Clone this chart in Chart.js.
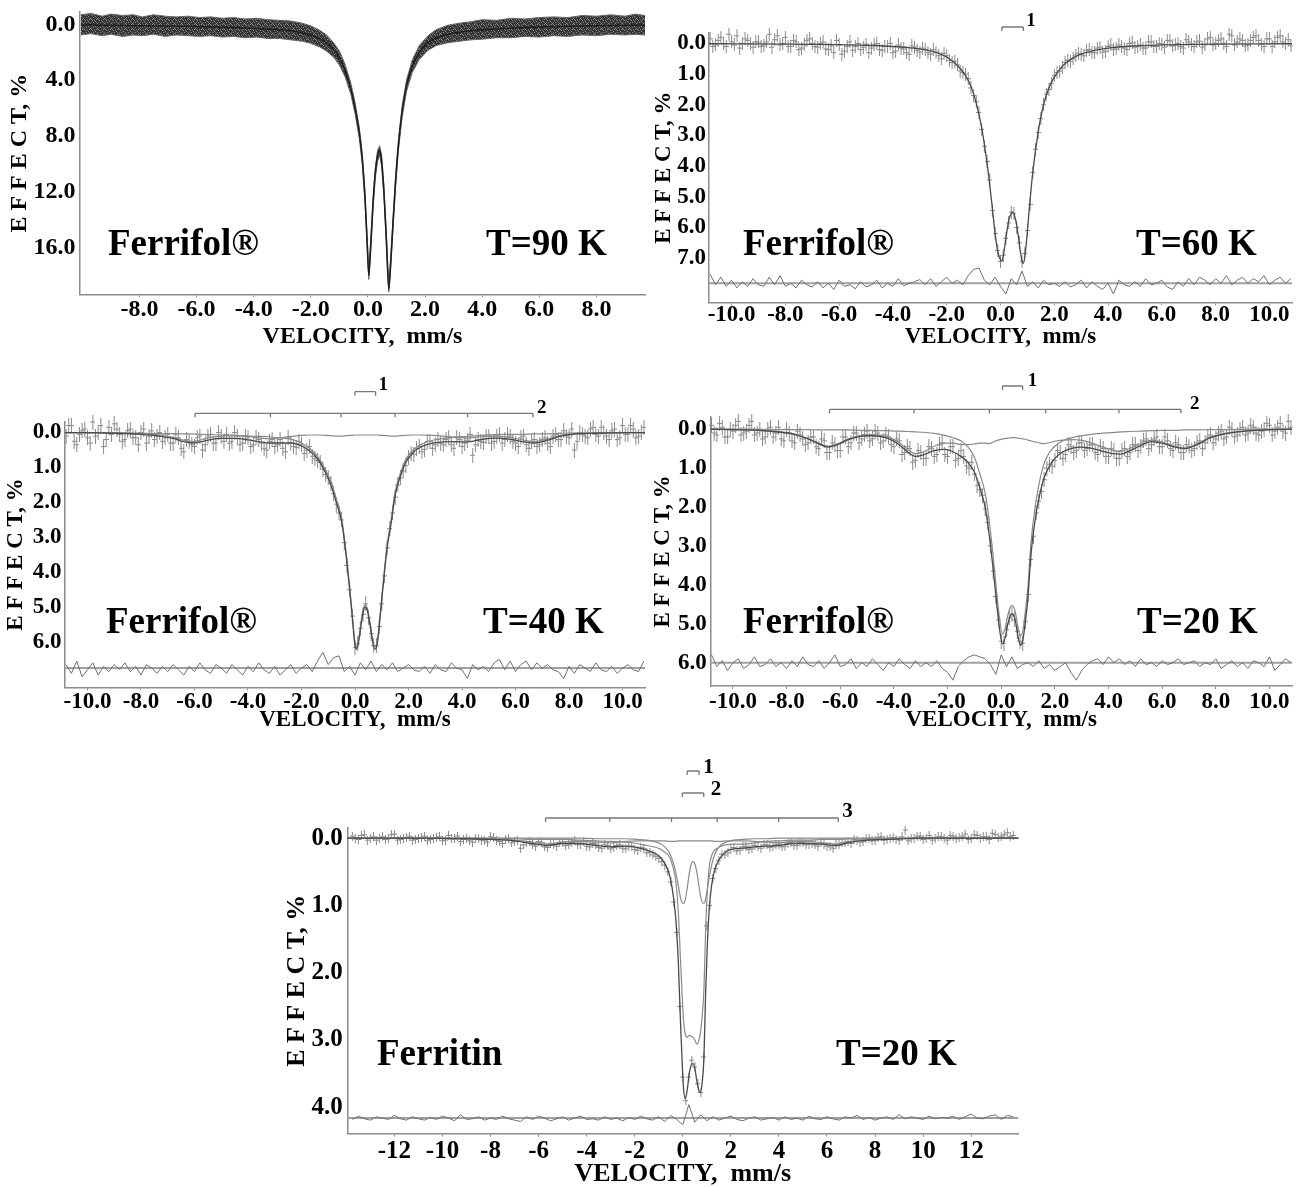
<!DOCTYPE html>
<html>
<head>
<meta charset="utf-8">
<title>Mössbauer spectra: Ferrifol and Ferritin</title>
<script src="https://cdn.jsdelivr.net/npm/chart.js@4.4.1/dist/chart.umd.min.js"></script>
<style>
  html, body { margin: 0; padding: 0; background: #fff; }
  #page { position: relative; width: 1299px; height: 1187px; overflow: hidden; }
  #page canvas { position: absolute; }
</style>
</head>
<body>
<div id="page">
  <canvas id="c90"></canvas>
  <canvas id="c60"></canvas>
  <canvas id="c40"></canvas>
  <canvas id="c20"></canvas>
  <canvas id="cFtn"></canvas>
</div>
<script>
//setup block
const SERIF = '"Liberation Serif", "Times New Roman", serif';
const AXIS = '#8c8c8c';

// ---- Ferrifol, T=90 K (dense data band) ----
const vel90 = [-10.05,-9.7,-9.3,-9.0,-8.6,-8.2,-7.9,-7.5,-7.1,-6.7,
  -6.3,-5.9,-5.5,-5.1,-4.7,-4.3,-3.9,-3.5,-3.1,-2.7,
  -2.3,-2.0,-1.7,-1.45,-1.2,-1.0,-0.8,-0.6,-0.45,-0.3,
  -0.2,-0.1,-0.03,0.03,0.1,0.18,0.26,0.34,0.41,0.48,
  0.56,0.64,0.73,0.8,0.88,0.97,1.07,1.2,1.35,1.55,
  1.8,2.1,2.4,2.8,3.2,3.6,4.0,4.5,5.0,5.5,
  6.0,6.5,7.0,7.5,8.0,8.5,9.0,9.35,9.7];
const band90Mid = [0.05,0.0,0.05,0.05,0.05,0.08,0.08,0.1,0.1,0.12,
  0.13,0.15,0.17,0.2,0.22,0.25,0.28,0.32,0.38,0.45,
  0.6,0.75,1.0,1.3,1.8,2.4,3.3,4.6,6.0,7.8,
  9.6,12.5,15.5,18.0,15.8,12.8,10.6,9.4,9.0,9.8,
  12.0,15.2,19.0,17.0,14.2,11.2,8.6,6.2,4.4,3.0,
  2.0,1.3,0.95,0.7,0.55,0.45,0.38,0.32,0.27,0.22,
  0.18,0.15,0.12,0.1,0.08,0.06,0.05,0.04,0.03];
const band90Top = [-0.7,-0.8,-0.6,-0.75,-0.65,-0.7,-0.55,-0.7,-0.6,-0.55,
  -0.6,-0.5,-0.55,-0.45,-0.5,-0.4,-0.45,-0.35,-0.3,-0.25,
  -0.1,0.1,0.4,0.75,1.3,1.9,2.85,4.2,5.6,7.4,
  9.2,12.1,15.1,17.6,15.4,12.4,10.2,9.0,8.7,9.4,
  11.6,14.8,18.6,16.6,13.8,10.8,8.2,5.8,4.0,2.55,
  1.5,0.8,0.35,0.05,-0.1,-0.2,-0.35,-0.3,-0.45,-0.4,
  -0.5,-0.55,-0.5,-0.65,-0.6,-0.7,-0.6,-0.75,-0.65];
const band90Bot = [0.75,0.65,0.8,0.7,0.85,0.75,0.8,0.7,0.85,0.75,
  0.8,0.85,0.8,0.9,0.85,0.95,0.9,1.0,1.0,1.1,
  1.2,1.35,1.6,1.9,2.35,2.9,3.75,5.0,6.4,8.2,
  10.0,12.9,15.9,18.3,16.2,13.2,11.0,9.8,9.4,10.2,
  12.4,15.6,19.2,17.4,14.6,11.6,9.0,6.6,4.8,3.45,
  2.5,1.85,1.5,1.3,1.2,1.1,1.05,0.95,0.95,0.85,
  0.9,0.8,0.85,0.75,0.8,0.7,0.75,0.7,0.75];
const ticks90X = [-8, -6, -4, -2, 0, 2, 4, 6, 8];
const ticks90Y = [0, 4, 8, 12, 16];

// ---- velocity channels shared by the 60 / 40 / 20 K spectra ----
const velGrid = [-10.8,-10.6,-10.4,-10.2,-10.0,-9.8,-9.6,-9.4,-9.2,-9.0,
  -8.8,-8.6,-8.4,-8.2,-8.0,-7.8,-7.6,-7.4,-7.2,-7.0,
  -6.8,-6.6,-6.4,-6.2,-6.0,-5.8,-5.6,-5.4,-5.2,-5.0,
  -4.8,-4.6,-4.4,-4.2,-4.0,-3.8,-3.6,-3.4,-3.2,-3.0,
  -2.8,-2.6,-2.4,-2.2,-2.0,-1.8,-1.6,-1.4,-1.2,-1.0,
  -0.8,-0.6,-0.4,-0.2,0.0,0.2,0.4,0.6,0.8,1.0,
  1.2,1.4,1.6,1.8,2.0,2.2,2.4,2.6,2.8,3.0,
  3.2,3.4,3.6,3.8,4.0,4.2,4.4,4.6,4.8,5.0,
  5.2,5.4,5.6,5.8,6.0,6.2,6.4,6.6,6.8,7.0,
  7.2,7.4,7.6,7.8,8.0,8.2,8.4,8.6,8.8,9.0,
  9.2,9.4,9.6,9.8,10.0,10.2,10.4,10.6,10.8];
// odd channels (between the ones above)
const velGridB = [-10.7,-10.5,-10.3,-10.1,-9.9,-9.7,-9.5,-9.3,-9.1,-8.9,
  -8.7,-8.5,-8.3,-8.1,-7.9,-7.7,-7.5,-7.3,-7.1,-6.9,
  -6.7,-6.5,-6.3,-6.1,-5.9,-5.7,-5.5,-5.3,-5.1,-4.9,
  -4.7,-4.5,-4.3,-4.1,-3.9,-3.7,-3.5,-3.3,-3.1,-2.9,
  -2.7,-2.5,-2.3,-2.1,-1.9,-1.7,-1.5,-1.3,-1.1,-0.9,
  -0.7,-0.5,-0.3,-0.1,0.1,0.3,0.5,0.7,0.9,1.1,
  1.3,1.5,1.7,1.9,2.1,2.3,2.5,2.7,2.9,3.1,
  3.3,3.5,3.7,3.9,4.1,4.3,4.5,4.7,4.9,5.1,
  5.3,5.5,5.7,5.9,6.1,6.3,6.5,6.7,6.9,7.1,
  7.3,7.5,7.7,7.9,8.1,8.3,8.5,8.7,8.9,9.1,
  9.3,9.5,9.7,9.9,10.1,10.3,10.5,10.7];
const ticksVelX = [-10, -8, -6, -4, -2, 0, 2, 4, 6, 8, 10];

// ---- Ferrifol, T=60 K ----
const pts60 = [-0.15,0.05,-0.2,0.1,-0.05,-0.25,0.0,-0.1,0.12,-0.05,
  0.08,-0.3,-0.12,0.05,-0.2,0.1,-0.05,0.15,-0.1,0.0,
  0.12,-0.05,0.2,0.3,0.05,0.25,-0.05,0.1,0.2,0.02,
  0.15,0.0,0.22,0.1,0.3,0.05,0.18,0.35,0.12,0.28,
  0.2,0.35,0.28,0.5,0.4,0.62,0.7,0.95,1.15,1.7,
  2.25,3.35,4.45,6.2,7.1,6.35,5.5,6.0,7.1,6.1,
  4.2,2.9,2.0,1.5,1.05,0.9,0.62,0.58,0.38,0.35,
  0.22,0.3,0.15,0.28,0.1,0.2,0.05,0.15,0.0,0.12,
  0.05,0.15,-0.05,0.1,0.02,-0.1,0.08,0.0,0.15,-0.05,
  0.1,-0.08,0.05,-0.2,0.0,-0.15,0.1,-0.25,-0.05,-0.1,
  0.05,-0.2,-0.1,0.1,-0.15,-0.05,-0.25,0.0,0.08];
const pts60B = [0.1,-0.1,0.0,-0.3,0.05,0.15,-0.15,0.0,-0.05,0.1,
  -0.05,0.12,-0.25,0.0,0.1,-0.1,0.2,0.05,-0.15,0.1,
  0.0,0.18,0.08,-0.1,0.35,0.1,0.22,0.0,0.12,0.3,
  0.05,0.2,0.1,0.0,0.25,0.15,0.3,0.08,0.22,0.15,
  0.3,0.2,0.4,0.32,0.55,0.58,0.9,1.0,1.45,1.9,
  2.8,3.85,5.45,6.75,6.9,5.85,5.55,6.5,6.85,5.25,
  3.45,2.45,1.65,1.3,0.95,0.8,0.55,0.5,0.32,0.4,
  0.2,0.3,0.12,0.25,0.05,0.18,0.1,0.2,-0.02,0.1,
  0.15,-0.05,0.1,0.0,0.12,-0.08,0.05,0.1,-0.12,0.02,
  -0.05,0.12,-0.15,0.05,-0.1,0.0,-0.3,0.05,-0.15,0.08,
  -0.1,-0.25,0.02,-0.15,0.1,-0.2,-0.05,-0.12];
const resid60 = [-0.3,0.05,-0.2,0.1,-0.1,0.15,-0.05,0.1,-0.15,0.05,
  0.1,-0.2,0.05,-0.25,0.1,0.0,0.15,-0.1,0.05,0.12,
  -0.05,0.15,0.0,0.2,-0.1,0.1,0.05,0.18,-0.05,0.12,
  0.05,-0.1,0.15,0.0,0.1,-0.15,0.08,0.0,-0.05,-0.12,
  0.05,-0.15,0.1,-0.05,-0.2,0.0,-0.1,0.05,-0.25,-0.45,
  -0.5,-0.1,0.05,-0.2,0.1,0.35,-0.15,0.05,-0.4,0.1,
  -0.05,0.15,-0.1,0.05,0.0,0.1,-0.05,0.12,0.05,-0.1,
  0.15,-0.05,0.1,0.2,0.0,0.35,-0.1,0.05,0.1,-0.05,
  0.1,-0.15,0.05,0.0,-0.1,0.12,0.2,-0.05,0.1,-0.15,
  0.05,-0.2,-0.1,0.05,-0.15,0.0,-0.25,0.05,-0.1,-0.2,
  0.0,-0.15,-0.05,-0.25,0.05,-0.1,-0.2,0.0,-0.15];
const fitV60 = [-10.84,-8,-6,-5,-4,-3.5,-3,-2.5,-2.2,-1.9,
  -1.6,-1.3,-1.1,-0.9,-0.7,-0.5,-0.35,-0.2,-0.1,0.0,
  0.05,0.1,0.2,0.3,0.45,0.55,0.65,0.75,0.8,0.85,
  0.95,1.05,1.2,1.4,1.6,1.8,2.0,2.3,2.6,3.0,
  3.5,4,5,6,8,10.84];
const fit60 = [0.01,0.02,0.04,0.06,0.1,0.13,0.18,0.27,0.36,0.5,
  0.72,1.05,1.4,1.95,2.75,3.9,5.0,6.2,6.8,7.05,
  7.08,6.95,6.35,5.8,5.5,5.7,6.2,6.85,7.1,7.18,
  6.6,5.6,4.2,2.9,2.0,1.45,1.1,0.75,0.52,0.35,
  0.23,0.15,0.08,0.05,0.02,0.01];
const dbl60Lines = [0.05, 0.85];
const ticks60Y = [0, 1, 2, 3, 4, 5, 6, 7];

// ---- Ferrifol, T=40 K ----
const pts40 = [0.1,-0.2,0.35,-0.05,0.15,-0.3,0.0,0.4,-0.15,-0.25,
  0.05,0.2,-0.1,0.15,0.0,0.3,-0.05,0.12,0.25,0.05,
  0.3,0.15,0.55,0.25,0.4,0.1,0.35,0.05,0.3,0.12,
  0.05,0.25,0.1,0.3,0.15,0.35,0.2,0.45,0.25,0.4,
  0.2,0.55,0.3,0.42,0.35,0.5,0.68,0.8,1.05,1.3,
  1.75,2.3,3.15,4.5,6.15,5.6,4.9,5.75,6.1,4.9,
  3.3,2.3,1.5,1.1,0.72,0.62,0.4,0.48,0.25,0.35,
  0.3,0.2,0.35,0.15,0.4,0.22,0.65,0.2,0.28,0.1,
  0.25,0.05,0.2,0.1,0.3,0.15,0.35,0.25,0.4,0.2,
  0.3,0.1,0.2,-0.05,0.15,0.5,0.0,0.1,-0.1,0.05,
  -0.15,0.1,-0.05,0.2,-0.2,0.05,-0.1,0.1,-0.15];
const pts40B = [-0.2,0.25,0.05,-0.1,0.3,0.1,-0.2,0.2,0.05,-0.1,
  0.25,-0.05,0.15,0.35,-0.1,0.1,0.2,0.0,0.15,0.3,
  0.05,0.45,0.2,0.35,0.15,0.5,0.1,0.3,0.0,0.25,
  0.3,0.0,0.35,0.1,0.4,0.15,0.3,0.5,0.2,0.35,
  0.45,0.15,0.4,0.25,0.6,0.4,0.75,0.85,1.2,1.45,
  2.05,2.5,3.8,5.25,6.05,5.2,5.3,6.1,5.55,4.1,
  2.75,1.85,1.3,0.95,0.6,0.45,0.55,0.25,0.45,0.2,
  0.35,0.15,0.45,0.2,0.3,0.05,0.35,0.25,0.1,0.3,
  0.1,0.3,0.05,0.25,0.4,0.1,0.45,0.2,0.35,0.15,
  0.4,0.05,0.2,0.1,-0.1,0.25,0.05,0.15,-0.15,0.1,
  0.0,0.2,-0.1,0.15,0.05,-0.2,0.15,0.0];
const resid40 = [-0.1,0.15,-0.2,0.25,0.05,-0.15,0.2,-0.05,0.1,-0.1,
  0.05,-0.15,0.1,-0.05,0.2,-0.1,0.0,0.15,-0.05,0.1,
  -0.1,0.05,0.2,-0.05,0.1,-0.15,0.05,0.15,-0.1,0.0,
  0.15,-0.1,0.05,0.2,-0.05,0.1,-0.15,0.05,0.15,-0.05,
  0.2,0.05,-0.1,0.15,0.0,-0.1,0.1,-0.2,-0.45,-0.1,
  -0.3,-0.35,0.1,-0.05,0.2,-0.15,0.05,-0.2,0.1,-0.1,
  0.05,-0.15,0.1,0.0,-0.1,0.05,0.1,-0.05,0.15,-0.1,
  0.05,0.1,-0.15,0.0,0.05,0.3,-0.1,0.05,-0.05,0.1,
  -0.15,-0.25,0.05,-0.2,0.1,-0.1,-0.2,0.05,-0.15,0.0,
  -0.1,0.05,0.1,0.3,-0.05,0.15,-0.1,0.0,0.1,-0.15,
  0.05,0.1,-0.05,0.15,0.0,-0.1,0.05,0.1,-0.2];
const fitV40 = [-10.84,-9,-8,-7.3,-6.8,-6.4,-6.1,-5.8,-5.4,-5.0,
  -4.5,-4.0,-3.6,-3.2,-2.8,-2.4,-2.0,-1.7,-1.4,-1.1,
  -0.9,-0.7,-0.5,-0.35,-0.2,-0.1,0.0,0.05,0.12,0.2,
  0.3,0.38,0.46,0.55,0.65,0.73,0.78,0.85,0.95,1.05,
  1.2,1.35,1.5,1.7,1.9,2.2,2.5,2.9,3.3,3.7,
  4.2,4.7,5.2,5.7,6.2,6.7,7.2,7.7,8.3,9,
  10.84];
const fit40 = [0.0,0.02,0.05,0.1,0.17,0.26,0.3,0.27,0.2,0.17,
  0.17,0.21,0.26,0.3,0.3,0.3,0.38,0.52,0.75,1.15,
  1.5,2.0,2.55,3.4,4.5,5.3,6.1,6.2,6.05,5.65,
  5.15,5.0,5.1,5.45,5.95,6.2,6.18,5.95,5.2,4.4,
  3.3,2.6,1.8,1.25,0.85,0.55,0.4,0.3,0.27,0.26,
  0.27,0.2,0.16,0.18,0.25,0.3,0.22,0.1,0.04,0.02,
  0.0];
const dbl40 = [0.0,0.01,0.02,0.03,0.03,0.04,0.04,0.05,0.06,0.07,
  0.08,0.1,0.11,0.12,0.15,0.19,0.3,0.45,0.68,1.07,
  1.41,1.9,2.45,3.31,4.42,5.22,6.03,6.13,5.98,5.58,
  5.08,4.93,5.03,5.38,5.88,6.13,6.11,5.88,5.12,4.32,
  3.21,2.5,1.7,1.16,0.77,0.48,0.33,0.22,0.17,0.13,
  0.11,0.08,0.06,0.05,0.05,0.04,0.04,0.02,0.01,0.01,
  0.0];
const sext40 = [0.0,0.01,0.03,0.07,0.14,0.22,0.26,0.22,0.14,0.1,
  0.09,0.11,0.15,0.18,0.15,0.11,0.08,0.07,0.07,0.08,
  0.09,0.1,0.1,0.09,0.08,0.08,0.07,0.07,0.07,0.07,
  0.07,0.07,0.07,0.07,0.07,0.07,0.07,0.07,0.08,0.08,
  0.09,0.1,0.1,0.09,0.08,0.07,0.07,0.08,0.1,0.13,
  0.16,0.12,0.1,0.13,0.2,0.26,0.18,0.08,0.03,0.01,
  0.0];
const dbl40Lines = [0.0, 0.77];
const sext40Lines = [-5.98, -3.16, -0.52, 1.5, 4.21, 6.65];
const ticks40Y = [0, 1, 2, 3, 4, 5, 6];

// ---- Ferrifol, T=20 K ----
const pts20 = [-0.1,0.15,-0.05,0.2,0.05,-0.2,0.1,-0.1,0.15,0.0,
  0.2,-0.05,0.1,0.25,0.0,0.3,0.05,0.25,0.35,0.2,
  0.5,0.3,0.6,0.4,0.55,0.2,0.35,0.1,0.25,0.05,
  0.25,0.1,0.3,0.2,0.45,0.3,0.6,0.5,0.8,0.6,
  0.75,0.5,0.65,0.35,0.7,0.45,0.75,0.7,1.0,1.15,
  1.55,2.05,3.0,4.3,5.45,5.15,4.75,5.2,5.5,4.25,
  2.75,1.85,1.3,0.9,0.8,0.6,0.65,0.45,0.55,0.35,
  0.5,0.4,0.65,0.5,0.7,0.55,0.75,0.5,0.6,0.4,
  0.45,0.25,0.4,0.2,0.45,0.3,0.55,0.4,0.6,0.45,
  0.5,0.3,0.35,0.15,0.25,0.05,0.2,0.0,0.15,-0.05,
  0.1,-0.05,0.15,0.0,-0.1,0.05,-0.15,0.1,-0.05];
const pts20B = [0.1,-0.15,0.2,0.0,-0.1,0.15,0.05,-0.2,0.1,0.25,
  0.0,0.2,-0.05,0.3,0.1,0.35,0.15,0.4,0.2,0.45,
  0.25,0.6,0.35,0.55,0.2,0.45,0.1,0.35,0.15,0.3,
  0.05,0.35,0.15,0.4,0.25,0.65,0.45,0.85,0.55,0.75,
  0.45,0.7,0.4,0.65,0.45,0.8,0.55,0.95,0.85,1.45,
  1.7,2.4,3.65,4.9,5.5,4.85,4.9,5.45,4.95,3.35,
  2.15,1.6,1.0,0.95,0.55,0.75,0.4,0.6,0.35,0.55,
  0.4,0.6,0.45,0.7,0.5,0.75,0.55,0.7,0.4,0.55,
  0.3,0.5,0.25,0.45,0.2,0.5,0.35,0.6,0.4,0.55,
  0.35,0.5,0.2,0.35,0.1,0.25,-0.05,0.2,0.0,0.15,
  -0.1,0.1,0.05,-0.15,0.15,-0.05,0.05,-0.2];
const resid20 = [-0.2,0.1,-0.05,0.2,0.0,-0.1,0.15,0.05,-0.15,0.1,
  0.05,-0.1,0.1,0.0,0.15,-0.05,0.1,-0.15,0.05,0.1,
  -0.05,0.15,0.0,-0.2,0.1,0.05,-0.1,0.15,0.0,0.1,
  -0.1,0.05,0.2,0.0,0.1,-0.1,0.05,0.15,-0.05,0.1,
  0.0,0.1,-0.05,0.15,0.25,0.45,0.1,-0.05,-0.15,-0.2,
  -0.15,-0.1,0.05,0.3,-0.2,0.1,-0.15,0.15,0.05,0.0,
  0.1,-0.05,0.15,0.05,0.2,0.1,0.0,0.25,0.45,0.2,
  0.05,-0.05,-0.1,0.05,-0.15,0.0,-0.1,0.05,-0.05,0.1,
  -0.1,0.05,0.0,0.1,-0.05,0.05,0.0,-0.1,0.05,0.0,
  -0.05,0.1,0.0,0.05,-0.1,0.15,0.05,-0.05,0.1,0.0,
  0.15,-0.05,0.0,0.1,-0.15,0.2,0.05,-0.1,0.0];
const fitV20 = [-10.84,-9.5,-8.5,-7.8,-7.2,-6.8,-6.45,-6.1,-5.7,-5.2,
  -4.8,-4.3,-3.8,-3.5,-3.2,-2.9,-2.5,-2.1,-1.8,-1.5,
  -1.25,-1.0,-0.8,-0.6,-0.45,-0.3,-0.15,-0.05,0.05,0.15,
  0.25,0.4,0.52,0.62,0.72,0.8,0.9,1.0,1.1,1.25,
  1.4,1.6,1.8,2.0,2.3,2.7,3.0,3.3,3.7,4.1,
  4.45,4.8,5.2,5.6,6.0,6.4,6.86,7.3,7.8,8.5,
  9.5,10.84];
const fit20 = [0.0,0.02,0.06,0.12,0.25,0.38,0.46,0.4,0.27,0.18,
  0.17,0.22,0.4,0.58,0.7,0.66,0.55,0.52,0.58,0.7,
  0.85,1.1,1.5,2.0,2.7,3.6,4.6,5.2,5.52,5.35,
  5.0,4.75,4.9,5.3,5.55,5.45,4.95,4.3,3.3,2.4,
  1.8,1.25,0.95,0.75,0.58,0.48,0.46,0.48,0.55,0.62,
  0.64,0.55,0.42,0.32,0.36,0.45,0.5,0.4,0.22,0.1,
  0.03,0.0];
const dbl20 = [0.0,0.0,0.01,0.01,0.01,0.02,0.02,0.02,0.02,0.03,
  0.03,0.04,0.05,0.06,0.07,0.08,0.11,0.16,0.22,0.3,
  0.45,0.72,1.14,1.64,2.33,3.27,4.31,4.93,5.27,5.11,
  4.77,4.53,4.68,5.07,5.31,5.2,4.69,4.02,3.0,2.07,
  1.45,0.88,0.6,0.44,0.3,0.21,0.17,0.14,0.11,0.09,
  0.07,0.06,0.05,0.04,0.03,0.03,0.02,0.02,0.01,0.01,
  0.0,0.0];
const sext20 = [0.0,0.02,0.05,0.11,0.24,0.36,0.44,0.38,0.25,0.15,
  0.14,0.18,0.35,0.52,0.63,0.58,0.44,0.36,0.36,0.4,
  0.4,0.38,0.36,0.36,0.37,0.33,0.29,0.27,0.25,0.24,
  0.23,0.22,0.22,0.23,0.24,0.25,0.26,0.28,0.3,0.33,
  0.35,0.37,0.35,0.31,0.28,0.27,0.29,0.34,0.44,0.53,
  0.57,0.49,0.37,0.28,0.33,0.42,0.48,0.38,0.21,0.09,
  0.03,0.0];
const dbl20Lines = [0.05, 0.8];
const sext20Lines = [-6.4, -3.25, -0.44, 1.66, 4.39, 6.7];
const ticks20Y = [0, 1, 2, 3, 4, 5, 6];

// ---- Ferritin, T=20 K ----
const velGridFtn = [-13.75,-13.5,-13.25,-13.0,-12.75,-12.5,-12.25,-12.0,-11.75,-11.5,
  -11.25,-11.0,-10.75,-10.5,-10.25,-10.0,-9.75,-9.5,-9.25,-9.0,
  -8.75,-8.5,-8.25,-8.0,-7.75,-7.5,-7.25,-7.0,-6.75,-6.5,
  -6.25,-6.0,-5.75,-5.5,-5.25,-5.0,-4.75,-4.5,-4.25,-4.0,
  -3.75,-3.5,-3.25,-3.0,-2.75,-2.5,-2.25,-2.0,-1.75,-1.5,
  -1.25,-1.0,-0.75,-0.5,-0.25,0.0,0.25,0.5,0.75,1.0,
  1.25,1.5,1.75,2.0,2.25,2.5,2.75,3.0,3.25,3.5,
  3.75,4.0,4.25,4.5,4.75,5.0,5.25,5.5,5.75,6.0,
  6.25,6.5,6.75,7.0,7.25,7.5,7.75,8.0,8.25,8.5,
  8.75,9.0,9.25,9.5,9.75,10.0,10.25,10.5,10.75,11.0,
  11.25,11.5,11.75,12.0,12.25,12.5,12.75,13.0,13.25,13.5,
  13.75];
const velGridFtnB = [-13.625,-13.375,-13.125,-12.875,-12.625,-12.375,-12.125,-11.875,-11.625,-11.375,
  -11.125,-10.875,-10.625,-10.375,-10.125,-9.875,-9.625,-9.375,-9.125,-8.875,
  -8.625,-8.375,-8.125,-7.875,-7.625,-7.375,-7.125,-6.875,-6.625,-6.375,
  -6.125,-5.875,-5.625,-5.375,-5.125,-4.875,-4.625,-4.375,-4.125,-3.875,
  -3.625,-3.375,-3.125,-2.875,-2.625,-2.375,-2.125,-1.875,-1.625,-1.375,
  -1.125,-0.875,-0.625,-0.375,-0.125,0.125,0.375,0.625,0.875,1.125,
  1.375,1.625,1.875,2.125,2.375,2.625,2.875,3.125,3.375,3.625,
  3.875,4.125,4.375,4.625,4.875,5.125,5.375,5.625,5.875,6.125,
  6.375,6.625,6.875,7.125,7.375,7.625,7.875,8.125,8.375,8.625,
  8.875,9.125,9.375,9.625,9.875,10.125,10.375,10.625,10.875,11.125,
  11.375,11.625,11.875,12.125,12.375,12.625,12.875,13.125,13.375,13.625];
const ptsFtn = [-0.03,0.02,-0.05,0.0,0.03,-0.02,0.01,-0.06,0.02,-0.01,
  0.03,0.0,-0.03,0.02,-0.01,0.04,-0.04,0.01,0.05,0.0,
  0.06,0.01,0.04,-0.02,0.03,0.08,0.0,0.05,0.15,0.06,
  0.1,0.05,0.13,0.08,0.12,0.06,0.1,0.04,0.09,0.12,
  0.08,0.14,0.1,0.16,0.11,0.15,0.13,0.17,0.14,0.22,
  0.25,0.3,0.4,0.65,1.4,3.55,3.55,3.4,3.78,1.3,
  0.6,0.33,0.25,0.17,0.19,0.13,0.17,0.11,0.15,0.1,
  0.13,0.09,0.12,0.07,0.11,0.06,0.09,0.1,0.07,0.12,
  0.15,0.09,0.06,0.08,0.03,0.05,0.0,0.03,-0.02,0.02,
  -0.01,0.03,-0.12,0.01,-0.03,0.02,-0.04,0.0,-0.02,0.03,
  -0.03,-0.01,-0.06,0.01,-0.04,-0.02,0.02,-0.05,-0.03,-0.08,
  -0.04];
const ptsFtnB = [0.01,-0.04,0.03,-0.02,0.0,0.02,-0.05,0.03,0.0,-0.03,
  0.02,-0.01,0.04,0.0,-0.02,0.03,0.01,-0.03,0.02,0.04,
  0.0,0.03,0.06,-0.01,0.05,0.02,0.07,0.04,0.1,0.05,
  0.12,0.07,0.14,0.09,0.06,0.11,0.07,0.1,0.05,0.13,
  0.09,0.15,0.11,0.14,0.1,0.16,0.12,0.18,0.15,0.21,
  0.27,0.35,0.5,0.95,2.5,3.9,3.3,3.65,3.25,1.0,
  0.45,0.24,0.22,0.14,0.18,0.12,0.16,0.13,0.1,0.14,
  0.1,0.13,0.08,0.11,0.06,0.1,0.08,0.12,0.09,0.13,
  0.1,0.07,0.05,0.02,0.06,0.01,0.04,-0.01,0.03,0.0,
  0.02,-0.02,0.04,0.0,-0.03,0.01,0.03,-0.02,0.0,-0.04,
  0.01,-0.03,0.02,-0.05,0.0,-0.02,-0.07,-0.01,-0.05,-0.02];
const residFtn = [0.02,-0.03,0.01,0.03,-0.02,0.0,0.02,-0.04,0.01,0.03,
  -0.02,0.01,0.03,-0.01,0.02,-0.03,0.0,0.04,-0.05,0.02,
  0.01,-0.02,0.03,0.0,0.02,-0.03,0.01,0.03,0.05,-0.02,
  0.02,-0.03,0.0,0.04,0.01,-0.02,0.03,0.0,-0.03,0.02,
  0.01,0.03,-0.02,0.02,0.0,0.04,-0.01,0.02,-0.03,0.01,
  0.03,-0.02,0.05,-0.04,0.02,0.1,-0.2,0.06,-0.05,0.04,
  -0.02,0.03,0.0,-0.03,0.02,0.04,0.0,-0.02,0.03,0.01,
  -0.01,0.03,-0.02,0.02,0.0,0.03,-0.03,0.01,0.02,-0.02,
  0.01,0.03,-0.02,0.0,-0.04,0.02,-0.01,0.03,0.0,-0.02,
  0.02,-0.05,0.01,-0.02,0.0,0.02,-0.03,0.01,-0.01,0.0,
  -0.03,0.02,-0.02,-0.06,0.0,0.01,-0.03,-0.05,0.02,-0.04,
  -0.02];
const fitVFtn = [-13.96,-11,-9,-8,-7,-6.3,-5.6,-5.0,-4.3,-3.6,
  -3.0,-2.4,-1.9,-1.5,-1.2,-0.95,-0.75,-0.55,-0.4,-0.28,
  -0.18,-0.1,-0.03,0.03,0.1,0.18,0.26,0.34,0.42,0.5,
  0.58,0.65,0.72,0.8,0.88,0.95,1.02,1.1,1.2,1.32,
  1.45,1.6,1.8,2.1,2.5,3.0,3.5,4.0,4.6,5.2,
  5.8,6.4,7.0,7.7,8.5,10,13.96];
const fitFtn = [0,0,0.01,0.02,0.04,0.08,0.11,0.08,0.08,0.11,
  0.13,0.12,0.14,0.18,0.22,0.28,0.38,0.55,0.85,1.25,
  1.9,2.7,3.3,3.72,3.87,3.75,3.52,3.38,3.35,3.42,
  3.6,3.73,3.78,3.65,3.25,2.3,1.6,1.05,0.7,0.48,
  0.36,0.27,0.2,0.16,0.15,0.13,0.12,0.11,0.08,0.08,
  0.09,0.11,0.06,0.03,0.02,0.0,0];
const c1Ftn = [0,0,0.01,0.01,0.01,0.02,0.02,0.02,0.03,0.04,
  0.05,0.06,0.08,0.11,0.13,0.16,0.21,0.28,0.44,0.67,
  1.14,1.78,2.3,2.71,2.91,2.96,2.93,2.94,2.96,3.0,
  3.06,3.03,2.92,2.67,2.24,1.36,0.8,0.43,0.26,0.18,
  0.15,0.12,0.1,0.09,0.09,0.07,0.05,0.04,0.03,0.03,
  0.02,0.02,0.01,0.01,0.01,0,0];
const c2Ftn = [0,0,0,0,0,0,0,0,0,0.01,
  0.01,0.01,0.02,0.03,0.05,0.08,0.13,0.22,0.36,0.53,
  0.72,0.88,0.96,0.97,0.92,0.75,0.55,0.4,0.35,0.38,
  0.5,0.66,0.82,0.94,0.97,0.9,0.76,0.58,0.4,0.25,
  0.16,0.1,0.06,0.03,0.02,0.01,0.01,0,0,0,
  0,0,0,0,0,0,0];
const c3Ftn = [0,0,0,0.01,0.03,0.06,0.09,0.06,0.05,0.06,
  0.07,0.05,0.04,0.04,0.04,0.04,0.04,0.05,0.05,0.05,
  0.04,0.04,0.04,0.04,0.04,0.04,0.04,0.04,0.04,0.04,
  0.04,0.04,0.04,0.04,0.04,0.04,0.04,0.04,0.04,0.05,
  0.05,0.05,0.04,0.04,0.04,0.05,0.06,0.07,0.05,0.05,
  0.07,0.09,0.05,0.02,0.01,0,0];
const ftnD1Lines = [0.18, 0.68];
const ftnD2Lines = [-0.02, 0.87];
const ftnS3Lines = [-5.71, -3.04, -0.47, 1.43, 3.99, 6.47];
const ticksFtnX = [-12, -10, -8, -6, -4, -2, 0, 2, 4, 6, 8, 10, 12];
const ticksFtnY = [0, 1, 2, 3, 4];

//helpers
const xy = (xs, ys, shift = 0) => xs.map((x, i) => ({ x: x, y: ys[i] + shift }));

// small "+" marker: vertical error bar with a short cross stroke
function plusMarker(half, arm) {
  const c = document.createElement('canvas');
  c.width = arm * 2 + 1;
  c.height = half * 2 + 1;
  const g = c.getContext('2d');
  g.fillStyle = '#8a8a8a';
  g.fillRect(arm, 0, 1, half * 2 + 1);
  g.fillRect(0, half, arm * 2 + 1, 1);
  return c;
}

function errorBars(xs, ys, marker) {
  return {
    data: xy(xs, ys), showLine: false,
    pointStyle: marker, pointRadius: 4,
    borderColor: '#8a8a8a', clip: false
  };
}

function curve(xs, ys, color, width, shift = 0, smooth = true) {
  return {
    data: xy(xs, ys, shift), showLine: true, pointRadius: 0,
    borderColor: color, borderWidth: width, fill: false,
    cubicInterpolationMode: smooth ? 'monotone' : 'default', tension: 0,
    clip: false
  };
}

// speckled fill for the dense 90 K data band
function bandPattern(ctx) {
  const t = document.createElement('canvas');
  t.width = 7; t.height = 5;
  const g = t.getContext('2d');
  g.fillStyle = '#343434';
  g.fillRect(0, 0, 7, 5);
  g.fillStyle = '#8c8c8c';
  [[1, 0], [4, 1], [6, 3], [2, 2], [0, 4], [5, 4]].forEach(p => g.fillRect(p[0], p[1], 1, 1));
  g.fillStyle = '#5e5e5e';
  [[3, 0], [0, 2], [5, 2], [3, 4]].forEach(p => g.fillRect(p[0], p[1], 1, 1));
  return ctx.createPattern(t, 'repeat');
}

// stick diagrams (sub-spectrum line positions) above each plot
const sticksPlugin = {
  id: 'sticks',
  afterDraw(chart, args, opts) {
    const ctx = chart.ctx;
    const xs = chart.scales.x;
    (opts.rows || []).forEach(r => {
      const px = r.lines.map(v => xs.getPixelForValue(v));
      const a = Math.min(...px), b = Math.max(...px);
      ctx.save();
      ctx.strokeStyle = '#777';
      ctx.lineWidth = 1.3;
      ctx.beginPath();
      ctx.moveTo(a, r.y);
      ctx.lineTo(b, r.y);
      px.forEach(p => { ctx.moveTo(p, r.y); ctx.lineTo(p, r.y + 4); });
      ctx.stroke();
      ctx.fillStyle = '#000';
      ctx.font = 'bold ' + opts.size + 'px ' + SERIF;
      ctx.textBaseline = 'alphabetic';
      ctx.fillText(r.label, b + r.dx, r.ly);
      ctx.restore();
    });
  }
};

// sample / temperature captions inside each plot
const captionPlugin = {
  id: 'captions',
  afterDraw(chart, args, opts) {
    const ctx = chart.ctx;
    ctx.save();
    ctx.fillStyle = '#000';
    ctx.font = 'bold 37px ' + SERIF;
    ctx.textBaseline = 'alphabetic';
    (opts.items || []).forEach(it => ctx.fillText(it.text, it.x, it.y));
    ctx.restore();
  }
};

//config block
function panel(id, p) {
  const cv = document.getElementById(id);
  cv.width = p.box.w;
  cv.height = p.box.h;
  cv.style.left = p.box.left + 'px';
  cv.style.top = p.box.top + 'px';
  const f = size => ({ family: SERIF, size: size, weight: 'bold', lineHeight: 1 });
  return new Chart(cv, {
    type: 'scatter',
    data: { datasets: p.datasets(cv.getContext('2d')) },
    options: {
      responsive: false, animation: false, devicePixelRatio: 1, events: [],
      layout: { padding: p.box.pad },
      plugins: {
        legend: { display: false },
        tooltip: { enabled: false },
        sticks: { rows: p.sticks || [], size: p.stickSize || 19 },
        captions: { items: p.captions }
      },
      scales: {
        x: {
          type: 'linear', min: p.xRange[0], max: p.xRange[1],
          border: { color: AXIS, width: 1.5 },
          grid: { drawOnChartArea: false, drawTicks: true, tickLength: 3, color: AXIS },
          ticks: { color: '#000', font: f(p.tickSize), padding: p.xPad, maxRotation: 0, autoSkip: false,
                   callback: v => p.xFmt(v) },
          afterBuildTicks: s => { s.ticks = p.xTicks.map(v => ({ value: v })); },
          afterFit: s => { s.height = p.xH; s.paddingLeft = 0; s.paddingRight = 0; },
          title: { display: true, text: 'VELOCITY,  mm/s', color: '#000', font: f(p.titleSize),
                   padding: { top: 0, bottom: p.xTitlePad } }
        },
        y: {
          type: 'linear', reverse: true, min: p.yRange[0], max: p.yRange[1],
          border: { color: AXIS, width: 1.5 },
          grid: { drawOnChartArea: false, drawTicks: false },
          ticks: { color: '#000', font: f(p.tickSize), padding: p.yPad, callback: v => v.toFixed(1) },
          afterBuildTicks: s => { s.ticks = p.yTicks.map(v => ({ value: v })); },
          afterFit: s => { s.width = p.yW; s.paddingTop = 0; s.paddingBottom = 0; },
          title: { display: true, text: 'E F F E C T, %', color: '#000', font: f(p.titleSize),
                   padding: { top: p.yTitlePad, bottom: 0 } }
        }
      }
    },
    plugins: [sticksPlugin, captionPlugin]
  });
}

const fmt1 = v => v.toFixed(1);
const fmt0 = v => String(v);
const FIT = '#4a4a4a', PART = '#8a8a8a', RES = '#6e6e6e', BASE = '#a0a0a0';
const markMid = plusMarker(6, 2);
const markLong = plusMarker(7, 2);
const markShort = plusMarker(4, 2);

//init and render block
// 90 K
panel('c90', {
  box: { left: 0, top: 0, w: 650, h: 352, pad: { left: 0, right: 5, top: 12, bottom: 0 } },
  xRange: [-10.08, 9.7], yRange: [-0.9, 19.36], xTicks: ticks90X, yTicks: ticks90Y, xFmt: fmt1,
  yW: 80, xH: 57.7, tickSize: 24, titleSize: 24, xPad: 0, yPad: 4.5, xTitlePad: 3.3, yTitlePad: 7.5,
  datasets: ctx => [
    curve(vel90, band90Mid, '#1e1e1e', 1.5),
    curve(vel90, band90Top, '#666', 1, 0, false),
    Object.assign(curve(vel90, band90Bot, '#666', 1, 0, false), { fill: '-1', backgroundColor: bandPattern(ctx) })
  ],
  captions: [{ text: 'Ferrifol®', x: 108, y: 255 }, { text: 'T=90 K', x: 486, y: 255 }]
});

// 60 K
const base60 = 7.82;
panel('c60', {
  box: { left: 640, top: 0, w: 659, h: 352, pad: { left: 0, right: 7, top: 33, bottom: 0 } },
  xRange: [-10.84, 10.84], yRange: [-0.34, 8.44], xTicks: ticksVelX, yTicks: ticks60Y, xFmt: fmt1,
  yW: 69, xH: 49.7, tickSize: 23, titleSize: 23, xPad: -1.5, yPad: 3, xTitlePad: 3.8, yTitlePad: 13,
  datasets: () => [
    curve(fitV60, fit60, FIT, 1.3),
    errorBars(velGrid, pts60, markMid),
    errorBars(velGridB, pts60B, markMid),
    curve(velGrid, resid60, RES, 1, base60, false),
    curve([-10.84, 10.84], [0, 0], BASE, 2, base60, false)
  ],
  sticks: [{ lines: dbl60Lines, y: 27, label: '1', dx: 3, ly: 26 }],
  captions: [{ text: 'Ferrifol®', x: 103, y: 255 }, { text: 'T=60 K', x: 496, y: 255 }]
});

// 40 K
const base40 = 6.74;
panel('c40', {
  box: { left: 0, top: 360, w: 650, h: 375, pad: { left: 0, right: 5, top: 61.7, bottom: 0 } },
  xRange: [-10.84, 10.84], yRange: [-0.31, 7.29], xTicks: ticksVelX, yTicks: ticks40Y, xFmt: fmt1,
  yW: 65, xH: 47.7, tickSize: 23, titleSize: 23, xPad: -0.1, yPad: 3.6, xTitlePad: 3.5, yTitlePad: 5,
  datasets: () => [
    curve(fitV40, fit40, FIT, 1.3),
    curve(fitV40, dbl40, PART, 1.2),
    curve(fitV40, sext40, PART, 1.2),
    errorBars(velGrid, pts40, markLong),
    errorBars(velGridB, pts40B, markLong),
    curve(velGrid, resid40, RES, 1, base40, false),
    curve([-10.84, 10.84], [0, 0], BASE, 2, base40, false)
  ],
  sticks: [
    { lines: dbl40Lines, y: 31.7, label: '1', dx: 3, ly: 30 },
    { lines: sext40Lines, y: 53.3, label: '2', dx: 4, ly: 53 }
  ],
  captions: [{ text: 'Ferrifol®', x: 106, y: 273 }, { text: 'T=40 K', x: 483, y: 273 }]
});

// 20 K
const base20 = 6.0;
panel('c20', {
  box: { left: 645, top: 360, w: 654, h: 375, pad: { left: 0, right: 7, top: 56.7, bottom: 0 } },
  xRange: [-10.84, 10.84], yRange: [-0.32, 6.6], xTicks: ticksVelX, yTicks: ticks20Y, xFmt: fmt1,
  yW: 65.4, xH: 49, tickSize: 23, titleSize: 23, xPad: 1.2, yPad: 3.6, xTitlePad: 3.5, yTitlePad: 6.5,
  datasets: () => [
    curve(fitV20, fit20, FIT, 1.3),
    curve(fitV20, dbl20, PART, 1.2),
    curve(fitV20, sext20, PART, 1.2),
    errorBars(velGrid, pts20, markLong),
    errorBars(velGridB, pts20B, markLong),
    curve(velGrid, resid20, RES, 1, base20, false),
    curve([-10.84, 10.84], [0, 0], BASE, 2, base20, false)
  ],
  sticks: [
    { lines: dbl20Lines, y: 26, label: '1', dx: 5, ly: 26 },
    { lines: sext20Lines, y: 49.3, label: '2', dx: 9, ly: 49 }
  ],
  captions: [{ text: 'Ferrifol®', x: 98, y: 273 }, { text: 'T=20 K', x: 492, y: 273 }]
});

// Ferritin 20 K
const baseFtn = 4.16;
panel('cFtn', {
  box: { left: 270, top: 750, w: 760, h: 437, pad: { left: 0, right: 11.7, top: 78, bottom: 0 } },
  xRange: [-13.96, 13.96], yRange: [-0.15, 4.39], xTicks: ticksFtnX, yTicks: ticksFtnY, xFmt: fmt0,
  yW: 77.3, xH: 53.4, tickSize: 25, titleSize: 26, xPad: 2.6, yPad: 4.5, xTitlePad: 0, yTitlePad: 14,
  stickSize: 21,
  datasets: () => [
    curve(fitVFtn, fitFtn, FIT, 1.3),
    curve(fitVFtn, c1Ftn, PART, 1.2),
    curve(fitVFtn, c2Ftn, PART, 1.2),
    curve(fitVFtn, c3Ftn, PART, 1.2),
    errorBars(velGridFtn, ptsFtn, markShort),
    errorBars(velGridFtnB, ptsFtnB, markShort),
    curve(velGridFtn, residFtn, RES, 1, baseFtn, false),
    curve([-13.96, 13.96], [0, 0], BASE, 2, baseFtn, false)
  ],
  sticks: [
    { lines: ftnD1Lines, y: 21, label: '1', dx: 4, ly: 23 },
    { lines: ftnD2Lines, y: 43, label: '2', dx: 7, ly: 45 },
    { lines: ftnS3Lines, y: 68, label: '3', dx: 4, ly: 67 }
  ],
  captions: [{ text: 'Ferritin', x: 107, y: 315 }, { text: 'T=20 K', x: 566, y: 315 }]
});
</script>
</body>
</html>
